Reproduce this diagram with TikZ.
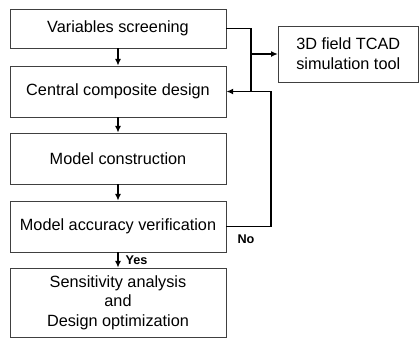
\documentclass[tikz,border=0pt]{standalone}
\usepackage{fontspec}
\setmainfont{Liberation Sans}
\usetikzlibrary{arrows.meta}
\begin{document}
\begin{tikzpicture}[x=0.75pt,y=-0.75pt,
  box/.style={draw=black!75,line width=0.7pt,minimum width=162pt,inner sep=0pt,align=center,font=\fontsize{12.2}{15}\selectfont},
  conn/.style={line width=1.1pt,black},
  arr/.style={conn,-{Latex[length=5pt,width=4.5pt]}},
  lbl/.style={font=\bfseries\fontsize{9.5}{11}\selectfont}]
\useasboundingbox (0,0) rectangle (419,337);
\node[box,minimum height=29.25pt] (b1) at (118,28.5) {Variables screening};
\node[box,minimum height=38.25pt] (b2) at (118,91.5) {Central composite design};
\node[box,minimum height=38.25pt] (b3) at (118,158.5) {Model construction};
\node[box,minimum height=38.25pt] (b4) at (118,226.5) {Model accuracy verification};
\node[box,minimum height=51.75pt,font=\fontsize{12.2}{14.6}\selectfont] (b5) at (118,302.5) {Sensitivity analysis\\and\\Design optimization};
\node[box,minimum width=105pt,minimum height=42pt] (tc) at (348.25,54) {3D field TCAD\\simulation tool};
\coordinate (j1) at (251,28.5);
\coordinate (j2) at (251,54);
\coordinate (j3) at (251,91.5);
\coordinate (k1) at (271,91.5);
\coordinate (k2) at (271,226.5);
\draw[arr,line width=0.8pt] (b1) -- (b2);
\draw[arr,line width=0.8pt] (b2) -- (b3);
\draw[arr,line width=0.8pt] (b3) -- (b4);
\draw[arr,line width=0.8pt] (b4) -- node[lbl,right,xshift=2pt] {Yes} (b5);
\draw[conn] (b1.east) -- (j1) -- (j3);
\draw[arr] (j2) -- (tc.west);
\draw[arr] (b4.east) -- (k2) -- (k1) -- (b2.east);
\node[lbl] (no) at (246,239) {No};
\end{tikzpicture}
\end{document}
